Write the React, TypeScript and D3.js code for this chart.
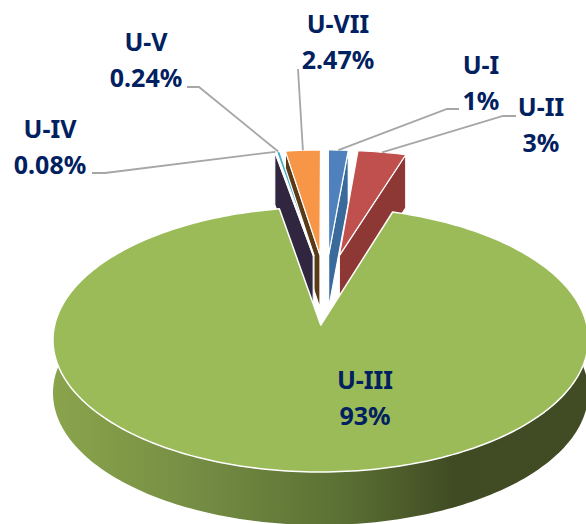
import React from "react";
import * as d3 from "d3";

const WIDTH = 586;
const HEIGHT = 524;

const categories = ["U-I", "U-II", "U-III", "U-IV", "U-V", "U-VII"];
const values = [1.4, 3.4, 92.5, 0.08, 0.24, 2.47];
const valueLabels = ["1%", "3%", "93%", "0.08%", "0.24%", "2.47%"];

const topColors = ["#4f81bd", "#c0504d", "#9bbb59", "#2f2540", "#4bacc6", "#f79646"];
const wallColors = ["#3a6a9b", "#8e3836", "#5f7435", "#30263f", "#3a8ba0", "#5b3b17"];

// label anchor: centre x, baseline of first line, elbow of the leader line
const labelPos = [
  { x: 481, y: 74, elbow: [447, 109], start: [459, 109] },
  { x: 541, y: 116, elbow: [503, 116], start: [516, 116] },
  { x: 365, y: 389, elbow: null, start: null },
  { x: 50, y: 138, elbow: [105, 173], start: [92, 173] },
  { x: 146, y: 51, elbow: [199, 87], start: [187, 87] },
  { x: 338, y: 33, elbow: [298, 69], start: [298, 69] },
];

// fake 3D camera
const CX = 325.5;
const CY = 289;
const RX = 258;
const RY = 123;
const PERSP = 9.4;
const EXPLODE = 0.285;
const DEPTH = 53;

const project = (angle: number, r: number, mid: number, z = 0): [number, number] => {
  const X = r * Math.sin(angle) + EXPLODE * Math.sin(mid);
  const Y = -r * Math.cos(angle) - EXPLODE * Math.cos(mid);
  const s = PERSP / (PERSP - Y);
  return [CX + RX * X * s, CY + RY * Y * s + z];
};

const line = d3.line();

const arcPoints = (a0: number, a1: number, mid: number, z = 0) => {
  const n = Math.max(2, Math.ceil((a1 - a0) / 0.02));
  return d3.range(n + 1).map((i) => project(a0 + ((a1 - a0) * i) / n, 1, mid, z));
};

const App = () => {
  const slices = d3.pie<number>().sort(null)(values);
  const mids = slices.map((s) => (s.startAngle + s.endAngle) / 2);

  const topPath = (i: number) => {
    const s = slices[i];
    return line([project(0, 0, mids[i]), ...arcPoints(s.startAngle, s.endAngle, mids[i])]) + "Z";
  };

  // the cut face we can see: right edge on the right side, left edge on the left side
  const wallPath = (i: number) => {
    const s = slices[i];
    const a = mids[i] < Math.PI ? s.endAngle : s.startAngle;
    return (
      line([
        project(0, 0, mids[i]),
        project(a, 1, mids[i]),
        project(a, 1, mids[i], DEPTH),
        project(0, 0, mids[i], DEPTH),
      ]) + "Z"
    );
  };

  const big = 2;
  const rimPath =
    line([
      ...arcPoints(slices[big].startAngle, slices[big].endAngle, mids[big]),
      ...arcPoints(slices[big].startAngle, slices[big].endAngle, mids[big], DEPTH).reverse(),
    ]) + "Z";

  // back slices first, the big one goes on top of their walls
  const paintOrder = [0, 1, 5, 4, 3];

  return (
    <svg
      width={WIDTH}
      height={HEIGHT}
      style={{ position: "absolute", left: 0, top: 0, display: "block" }}
      fontFamily="'Noto Sans', sans-serif"
    >
      <defs>
        <linearGradient id="rim" gradientUnits="userSpaceOnUse" x1={53} x2={586} y1={0} y2={0}>
          <stop offset="0" stopColor="#8aa44c" />
          <stop offset="0.25" stopColor="#768f44" />
          <stop offset="0.55" stopColor="#5a6f33" />
          <stop offset="0.75" stopColor="#404b23" />
          <stop offset="1" stopColor="#414c24" />
        </linearGradient>
      </defs>

      {paintOrder.map((i) => (
        <g key={categories[i]} stroke="#fff" strokeWidth={1.2} strokeLinejoin="round">
          <path d={wallPath(i)} fill={wallColors[i]} />
          <path d={topPath(i)} fill={topColors[i]} />
        </g>
      ))}

      <path d={rimPath} fill="url(#rim)" />
      <path d={topPath(big)} fill={topColors[big]} stroke="#fff" strokeWidth={1.5} strokeLinejoin="round" />

      {categories.map((c, i) => {
        const pos = labelPos[i];
        if (!pos.elbow) return null;
        const end = project(mids[i], 1, mids[i]);
        return (
          <path
            key={c}
            d={line([pos.start as [number, number], pos.elbow as [number, number], end]) as string}
            fill="none"
            stroke="#a6a6a6"
            strokeWidth={1.8}
          />
        );
      })}

      {categories.map((c, i) => (
        <text
          key={c}
          textAnchor="middle"
          fontSize={25}
          fontWeight={700}
          fill="#002060"
          x={labelPos[i].x}
          y={labelPos[i].y}
        >
          <tspan x={labelPos[i].x}>{c}</tspan>
          <tspan x={labelPos[i].x} dy={36}>
            {valueLabels[i]}
          </tspan>
        </text>
      ))}
    </svg>
  );
};

export default App;
